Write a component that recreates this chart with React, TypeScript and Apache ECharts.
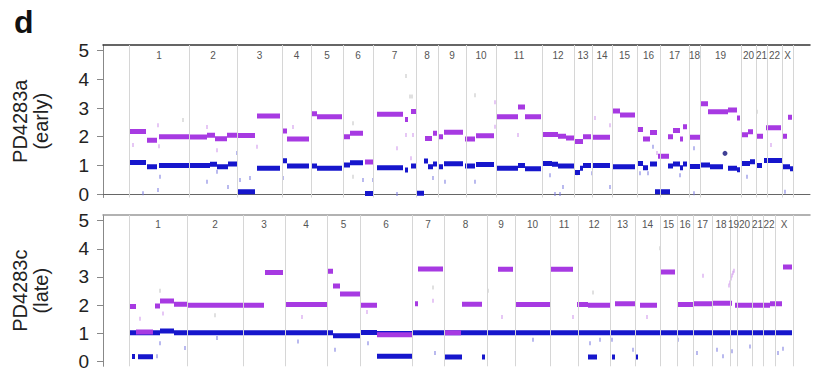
import React, { useEffect, useRef } from "react";
import * as echarts from "echarts";

// ---------- data (x in probe-index units along the genome, y in copy number) ----------
const chromNames = ["1","2","3","4","5","6","7","8","9","10","11","12","13","14","15","16","17","18","19","20","21","22","X"];
const yTicks = [0, 1, 2, 3, 4, 5];

// chromosome boundaries (probe index) for each sample
const topBounds = [26, 86, 134, 179, 208, 240, 270, 313, 335, 363, 393, 439, 471, 489, 509, 534, 557, 586, 597, 638, 653, 664, 679, 690];
const bottomBounds = [26, 84, 140, 182, 224, 257, 309, 341, 384, 412, 447, 475, 507, 532, 557, 574, 590, 609, 627, 634, 649, 660, 672, 690];

// segments: [start, end, copy number]
const topTotal = [
  [26, 43, 2.18], [44, 54, 1.88], [56, 86, 2.0],
  [86, 104, 1.99], [104, 112, 2.05], [112, 124, 1.93], [124, 134, 2.05],
  [135, 152, 2.04], [154, 177, 2.72],
  [179, 184, 2.2], [184, 206, 1.92],
  [208, 214, 2.8], [214, 239, 2.7],
  [240, 247, 2.0], [247, 260, 2.12], [262, 270, 1.12],
  [274, 300, 2.78], [302, 305, 2.6], [308, 313, 2.88],
  [322, 329, 1.94], [330, 334, 2.12],
  [336, 340, 2.0], [341, 360, 2.16],
  [362, 372, 1.92], [373, 391, 2.03],
  [394, 415, 2.7], [415, 422, 3.04], [422, 438, 2.7],
  [439, 455, 2.08], [455, 463, 2.02], [463, 471, 1.96],
  [472, 480, 1.83], [480, 488, 2.0],
  [489, 507, 1.98],
  [510, 517, 2.9], [517, 532, 2.76],
  [535, 540, 2.25], [540, 547, 1.92], [547, 554, 2.15], [555, 566, 1.32],
  [565, 570, 2.0], [570, 577, 2.22], [577, 580, 1.92], [580, 584, 2.35],
  [586, 597, 1.98],
  [597, 605, 3.15], [605, 625, 2.87], [625, 634, 2.93], [634, 637, 2.65],
  [639, 645, 2.07], [645, 650, 2.17],
  [653, 660, 2.02],
  [663, 678, 2.31],
  [680, 684, 2.02], [685, 689, 2.68],
];
const topAllele = [
  [26, 43, 1.1], [44, 54, 0.95], [56, 86, 1.0],
  [86, 107, 1.0], [107, 114, 1.04], [114, 125, 0.95], [125, 134, 1.05],
  [135, 152, 0.08], [154, 177, 0.9],
  [179, 184, 1.16], [184, 206, 0.98],
  [208, 214, 0.98], [214, 239, 0.9],
  [240, 247, 1.01], [247, 260, 1.09], [262, 270, 0.02],
  [274, 300, 0.92], [302, 305, 0.84], [308, 313, 0.98],
  [314, 321, 0.03], [321, 325, 1.15], [325, 330, 0.95], [330, 334, 1.05],
  [336, 340, 0.95], [341, 360, 1.06],
  [362, 372, 0.98], [373, 391, 1.03],
  [394, 415, 0.9], [415, 422, 1.0], [422, 438, 0.88],
  [439, 449, 1.07], [449, 455, 1.04], [455, 471, 0.98],
  [472, 477, 0.75], [477, 480, 0.9], [480, 488, 1.0],
  [489, 507, 1.0],
  [510, 532, 0.95],
  [535, 540, 1.07], [540, 545, 0.92], [547, 554, 1.05], [552, 567, 0.08],
  [565, 570, 0.98], [570, 577, 1.05], [577, 580, 0.92], [580, 584, 1.05],
  [586, 597, 0.96],
  [597, 607, 1.01], [607, 620, 0.95], [625, 634, 0.9], [634, 637, 0.85],
  [639, 647, 1.07], [647, 652, 1.13],
  [654, 659, 1.0],
  [661, 679, 1.17],
  [679, 687, 0.95], [687, 690, 0.88],
];
const topDots = [[622, 1.42]];

const bottomTotal = [
  [26, 33, 1.95], [33, 50, 1.05], [52, 57, 1.97], [57, 71, 2.15], [71, 84, 2.03],
  [84, 140, 2.0],
  [140, 161, 2.0], [162, 180, 3.16],
  [182, 224, 2.02],
  [224, 230, 3.2], [230, 237, 2.68], [237, 257, 2.4],
  [257, 274, 2.0], [274, 309, 0.95],
  [312, 315, 2.05], [315, 340, 3.28],
  [341, 358, 1.02], [359, 379, 2.03],
  [395, 410, 3.27],
  [412, 447, 2.02],
  [447, 470, 3.27],
  [474, 485, 2.02], [485, 507, 2.0],
  [512, 532, 2.05],
  [537, 554, 2.0],
  [557, 572, 3.18],
  [574, 590, 2.02],
  [590, 610, 2.05],
  [610, 629, 2.07],
  [632, 649, 2.0],
  [649, 667, 2.0],
  [667, 679, 2.05],
  [680, 689, 3.35],
];
const bottomAllele = [
  [26, 57, 1.02], [57, 71, 1.08], [71, 230, 1.02], [230, 257, 0.91], [257, 274, 1.03],
  [274, 309, 0.99], [309, 689, 1.02],
  [29, 32, 0.18], [35, 50, 0.17],
  [274, 309, 0.19],
  [342, 359, 0.16], [379, 382, 0.16],
  [485, 494, 0.16], [509, 512, 0.16], [532, 535, 0.16],
];

// scattered single probes [x, y]
const topNoiseGray = [[80, 2.58], [250, 2.47], [250, 0.6], [303, 4.12], [307, 3.4], [372, 3.45], [654, 2.87], [309, 3.4]];
const topNoiseBlue = [[40, 0.03], [55, 0.14], [57, 0.6], [104, 0.43], [114, 0.78], [125, 0.25], [134, 1.43], [137, 0.49], [147, 0.56], [180, 0.56], [260, 0.49], [270, 0.49], [294, 0], [330, 0.56], [342, 0.43], [372, 0.43], [447, 0.66], [452, 0], [457, 0], [460, 0.25], [474, 0.73], [489, 0.73], [507, 0.25], [537, 0.73], [545, 0.73], [550, 1.65], [577, 0.66], [591, 0.03], [644, 0.6], [682, 0.08], [591, 1.6]];
const topNoisePurple = [[30, 1.71], [55, 2.4], [56, 1.67], [104, 2.34], [114, 1.53], [154, 1.65], [190, 2.34], [294, 1.6], [303, 2.06], [308, 1.25], [310, 2.06], [392, 2.35], [415, 2.06], [492, 2.65], [507, 2.4], [554, 1.43], [668, 1.71], [392, 3.2]];

const bottomNoiseGray = [[57, 2.51], [112, 1.64], [490, 2.45], [557, 4.02], [330, 2.63], [385, 2.51]];
const bottomNoiseBlue = [[54, 0.19], [57, 0.65], [82, 0.48], [114, 0.83], [195, 0.71], [232, 0.42], [265, 0.65], [332, 0.3], [430, 0.77], [487, 0.65], [497, 0.77], [509, 0.77], [530, 0.42], [575, 0.77], [594, 0.3], [614, 0.42], [620, 0.19], [629, 0.36], [647, 0.53], [675, 0.3], [680, 0.45]];
const bottomNoisePurple = [[37, 1.52], [60, 1.7], [199, 1.58], [264, 1.76], [330, 2.16], [399, 1.58], [470, 1.58], [544, 1.58], [600, 3.04], [627, 2.8], [628, 2.95], [629, 3.05], [630, 3.15], [631, 3.22], [626, 2.7]];

// ---------- styling ----------
const PURPLE = "#a73ae2";
const BLUE = "#1616cc";
const FONT = "Liberation Sans, Arial, Helvetica, sans-serif";

function segSeries(data: number[][], color: string, idx: number, h: number, z: number) {
  return {
    type: "custom",
    xAxisIndex: idx * 2,
    yAxisIndex: idx,
    data,
    encode: { x: [0, 1], y: 2 },
    silent: true,
    z,
    clip: true,
    renderItem: (params: any, api: any) => {
      const a = api.coord([api.value(0), api.value(2)]);
      const b = api.coord([api.value(1), api.value(2)]);
      return {
        type: "rect",
        shape: { x: a[0], y: a[1] - h / 2, width: Math.max(b[0] - a[0], 1.5), height: h },
        style: { fill: color },
      };
    },
  };
}

function chromLabelSeries(bounds: number[], idx: number) {
  const data = chromNames.map((n, i) => [bounds[i], bounds[i + 1], 4.85]);
  return {
    type: "custom",
    xAxisIndex: idx * 2,
    yAxisIndex: idx,
    data,
    encode: { x: [0, 1], y: 2 },
    silent: true,
    z: 5,
    renderItem: (params: any, api: any) => {
      const p = api.coord([(api.value(0) + api.value(1)) / 2, api.value(2)]);
      return {
        type: "text",
        x: p[0],
        y: p[1],
        style: {
          text: chromNames[params.dataIndex],
          fill: "#555",
          fontSize: 10,
          fontFamily: FONT,
          align: "center",
          verticalAlign: "middle",
        },
      };
    },
  };
}

function boundarySeries(bounds: number[], idx: number) {
  return {
    type: "line",
    xAxisIndex: idx * 2,
    yAxisIndex: idx,
    data: [],
    silent: true,
    markLine: {
      silent: true,
      symbol: ["none", "none"],
      label: { show: false },
      lineStyle: { color: "#d6d6d6", width: 1, type: "solid" },
      data: bounds.map((b) => ({ xAxis: b })),
    },
  };
}

function noiseSeries(data: number[][], color: string, idx: number) {
  return {
    type: "scatter",
    xAxisIndex: idx * 2,
    yAxisIndex: idx,
    data,
    symbol: "rect",
    symbolSize: [1.3, 4],
    itemStyle: { color },
    silent: true,
    z: 2,
  };
}

function yAxisFor(idx: number, name: string, min: number) {
  return {
    gridIndex: idx,
    type: "value",
    min,
    max: 5.2,
    axisLine: { show: true, lineStyle: { color: "#888", width: 1 } },
    axisTick: { show: true, customValues: yTicks, length: 6, lineStyle: { color: "#888" } },
    axisLabel: { customValues: yTicks, fontSize: 19, color: "#222", margin: 14, fontFamily: FONT },
    splitLine: { show: false },
    name,
    nameLocation: "middle",
    nameRotate: 90,
    nameGap: 52,
    nameTextStyle: { fontSize: 20, lineHeight: 21, color: "#222", fontFamily: FONT },
  };
}

function xAxesFor(idx: number, topColor: string, bottomShow: boolean) {
  const base = {
    gridIndex: idx,
    type: "value",
    min: 0,
    max: 707,
    axisTick: { show: false },
    axisLabel: { show: false },
    splitLine: { show: false },
  };
  return [
    { ...base, position: "bottom", axisLine: { show: bottomShow, lineStyle: { color: "#666", width: 1 } } },
    { ...base, position: "top", axisLine: { show: true, lineStyle: { color: topColor, width: 1.5 } } },
  ];
}

export default function App() {
  const ref = useRef<HTMLDivElement>(null);
  useEffect(() => {
    if (!ref.current) return;
    const chart = echarts.init(ref.current, undefined, { renderer: "svg" });
    chart.setOption({
      animation: false,
      backgroundColor: "#ffffff",
      title: {
        text: "d",
        left: 9,
        top: 1,
        textStyle: { fontSize: 32, fontWeight: "bold", color: "#111", fontFamily: FONT },
      },
      grid: [
        { left: 103, right: 4, top: 45, height: 152.5 },
        { left: 103, right: 4, top: 215, height: 154 },
      ],
      xAxis: [...xAxesFor(0, "#333", true), ...xAxesFor(1, "#999", false)],
      yAxis: [yAxisFor(0, "PD4283a\n(early)", -0.12), yAxisFor(1, "PD4283c\n(late)", -0.17)],
      series: [
        boundarySeries(topBounds, 0),
        boundarySeries(bottomBounds, 1),
        chromLabelSeries(topBounds, 0),
        chromLabelSeries(bottomBounds, 1),
        noiseSeries(topNoiseGray, "#c4c4c4", 0),
        noiseSeries(topNoiseBlue, "#7a7ae0", 0),
        noiseSeries(topNoisePurple, "#cf95ec", 0),
        noiseSeries(bottomNoiseGray, "#c4c4c4", 1),
        noiseSeries(bottomNoiseBlue, "#7a7ae0", 1),
        noiseSeries(bottomNoisePurple, "#cf95ec", 1),
        segSeries(topAllele, BLUE, 0, 5, 3),
        segSeries(topTotal, PURPLE, 0, 5, 4),
        segSeries(bottomAllele, BLUE, 1, 5, 3),
        segSeries(bottomTotal, PURPLE, 1, 5, 4),
        {
          type: "scatter",
          xAxisIndex: 0,
          yAxisIndex: 0,
          data: topDots,
          symbol: "circle",
          symbolSize: 5,
          itemStyle: { color: "#10107a" },
          silent: true,
          z: 5,
        },
      ],
    });
    return () => chart.dispose();
  }, []);
  return <div ref={ref} style={{ position: "fixed", left: 0, top: 0, width: 814, height: 371 }} />;
}
